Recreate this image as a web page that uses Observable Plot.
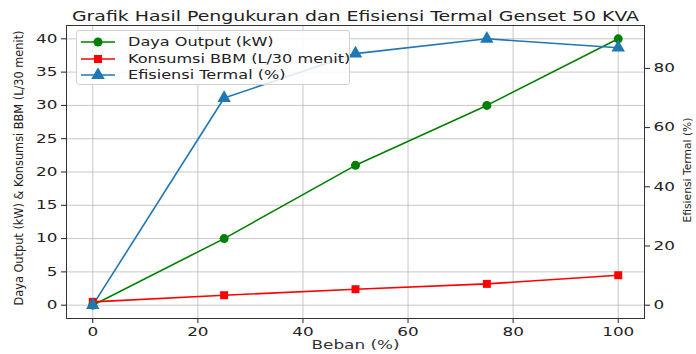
<!DOCTYPE html>
<html><head><meta charset="utf-8">
<script src="https://cdn.jsdelivr.net/npm/d3@7"></script>
<script src="https://cdn.jsdelivr.net/npm/@observablehq/plot@0.6"></script>
<style>
body{margin:0;background:#fff;font-family:"DejaVu Sans",sans-serif}
#wrap{position:relative;width:696px;height:354px}
#legend{position:absolute;left:76px;top:30px;width:274px;height:55px;border:1px solid #d0d0d0;border-radius:3px;background:rgba(255,255,255,0.85);box-sizing:border-box}
.row{position:absolute;left:3px;height:16px;display:flex;align-items:center;font-size:11.5px;color:#222;white-space:nowrap}
.row svg{margin-right:12px;flex:none}
.row span{display:inline-block;transform:scaleX(1.4);transform-origin:left center}
</style>
</head><body><div id="wrap"><div id="legend"></div></div>
<script>
const beban = [0, 25, 50, 75, 100];
const dayaOutput = [0, 10, 21, 30, 40];
const konsumsiBBM = [0.5, 1.5, 2.4, 3.2, 4.5];
const efisiensi = [0, 70, 85, 90, 87];
const xTicks = [0, 20, 40, 60, 80, 100];
const leftTicks = [0, 5, 10, 15, 20, 25, 30, 35, 40];
const rightTicks = [0, 20, 40, 60, 80];
const seriesNames = ["Daya Output (kW)", "Konsumsi BBM (L/30 menit)", "Efisiensi Termal (%)"];
const seriesColors = ["green", "red", "#1f77b4"];
const seriesSymbols = ["circle", "square", "triangle"];
const titleText = "Grafik Hasil Pengukuran dan Efisiensi Termal Genset 50 KVA";
const xLabel = "Beban (%)";
const yLeftLabel = "Daya Output (kW) & Konsumsi BBM (L/30 menit)";
const yRightLabel = "Efisiensi Termal (%)";

// right axis (efficiency) mapped onto left units: matplotlib autoscale ratio
const rightRatio = 99 / 44; // (-4.5..94.5) vs (-2..42)
const toLeft = v => v / rightRatio;

const rows = [];
beban.forEach((b, i) => {
  rows.push({x: b, y: dayaOutput[i], s: 0});
  rows.push({x: b, y: konsumsiBBM[i], s: 1});
  rows.push({x: b, y: toLeft(efisiensi[i]), s: 2});
});

const marks = [
  Plot.gridX(xTicks, {stroke: "#b0b0b0", strokeOpacity: 0.7}),
  Plot.gridY(leftTicks, {stroke: "#b0b0b0", strokeOpacity: 0.7}),
  Plot.axisX(xTicks, {tickSize: 5, tickPadding: 4, fontSize: 12, label: null}),
  Plot.axisY(leftTicks, {anchor: "left", tickSize: 5, tickPadding: 4, fontSize: 12, label: null}),
  Plot.axisY(rightTicks.map(toLeft), {anchor: "right", tickSize: 5, tickPadding: 4, fontSize: 12, label: null,
    tickFormat: d => String(Math.round(d * rightRatio))}),
];
for (const s of [0, 1, 2]) {
  const data = rows.filter(r => r.s === s);
  marks.push(Plot.line(data, {x: "x", y: "y", stroke: seriesColors[s], strokeWidth: 1.6}));
}
for (const s of [1, 0, 2]) {
  const data = rows.filter(r => r.s === s);
  marks.push(Plot.dot(data, {x: "x", y: "y", fill: seriesColors[s], symbol: seriesSymbols[s], r: s === 2 ? 5 : 4.5}));
}
marks.push(Plot.frame({stroke: "#333", strokeWidth: 1}));
marks.push(Plot.text([titleText], {frameAnchor: "top", dy: -14, fontSize: 13.5, fill: "#222"}));
marks.push(Plot.text([xLabel], {frameAnchor: "bottom", dy: 30, fontSize: 12, fill: "#333"}));
marks.push(Plot.text([yLeftLabel], {frameAnchor: "left", textAnchor: "middle", dx: -47, dy: -4, rotate: -90, fontSize: 12, fill: "#222", className: "ylab-left"}));
marks.push(Plot.text([yRightLabel], {frameAnchor: "right", textAnchor: "middle", dx: 43, dy: -2, rotate: -90, fontSize: 11, fill: "#222", className: "ylab-right"}));

const chart = Plot.plot({
  width: 696, height: 354,
  marginLeft: 66, marginRight: 52, marginTop: 25, marginBottom: 36,
  style: {fontFamily: "DejaVu Sans", background: "#fff", color: "#222", fontSize: "12px"},
  x: {domain: [-5, 105]},
  y: {domain: [-2, 42]},
  marks
});
document.getElementById("wrap").prepend(chart);

// mimic the reference's horizontally stretched text
d3.select(chart).selectAll("text").each(function() {
  const t = this;
  const tr = t.getAttribute("transform") || "";
  const inLeft = t.closest(".ylab-left"), inRight = t.closest(".ylab-right");
  if (inLeft) { t.setAttribute("textLength", 275); t.setAttribute("lengthAdjust", "spacingAndGlyphs"); return; }
  if (inRight) { t.setAttribute("textLength", 105); t.setAttribute("lengthAdjust", "spacingAndGlyphs"); return; }
  if (tr.includes("rotate")) return;
  const len = t.getComputedTextLength();
  if (len > 0) { t.setAttribute("textLength", (len * 1.4).toFixed(1)); t.setAttribute("lengthAdjust", "spacingAndGlyphs"); }
});

// legend
const leg = document.getElementById("legend");
seriesNames.forEach((name, i) => {
  const row = document.createElement("div");
  row.className = "row";
  row.style.top = (3 + i * 16.5) + "px";
  const sym = d3.symbol(i === 0 ? d3.symbolCircle : i === 1 ? d3.symbolSquare : d3.symbolTriangle, i === 2 ? 79 : 64)();
  row.innerHTML = `<svg width="36" height="14"><line x1="1" x2="35" y1="7" y2="7" stroke="${seriesColors[i]}" stroke-width="1.6"/><path transform="translate(18,7)" d="${sym}" fill="${seriesColors[i]}"/></svg><span>${name}</span>`;
  leg.appendChild(row);
});
</script>
</body></html>
